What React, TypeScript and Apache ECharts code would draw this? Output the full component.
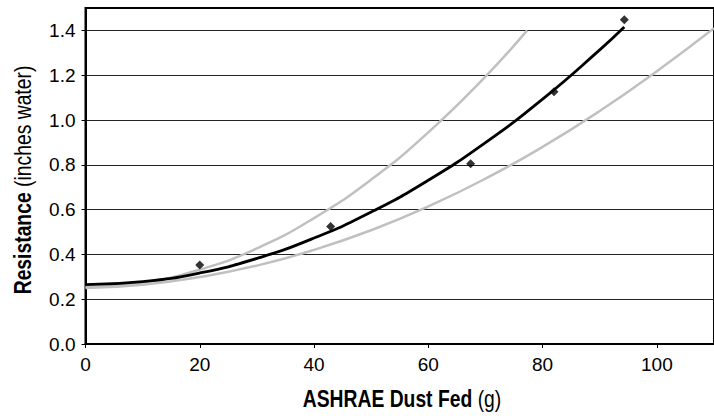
import React, { useEffect, useRef } from "react";
import * as echarts from "echarts";

// Measured data points (ASHRAE dust fed in g, resistance in inches water)
const dustFed = [20, 42.9, 67.4, 82.0, 94.3];
const resistance = [0.353, 0.525, 0.805, 1.126, 1.448];

// Black fitted curve
const fitX = [0, 10, 20, 30, 40, 50, 60, 70, 80, 90, 94.3];
const fitY = [0.265, 0.278, 0.317, 0.382, 0.473, 0.589, 0.731, 0.899, 1.093, 1.313, 1.415];

// Upper gray curve
const upperX = [0, 10, 20, 30, 40, 50, 60, 70, 77.3];
const upperY = [0.255, 0.274, 0.332, 0.427, 0.562, 0.734, 0.945, 1.194, 1.4];

// Lower gray curve
const lowerX = [0, 10, 20, 30, 40, 50, 60, 70, 80, 90, 100, 110];
const lowerY = [0.25, 0.265, 0.299, 0.35, 0.42, 0.508, 0.614, 0.738, 0.88, 1.04, 1.218, 1.41];

const xTicks = [0, 20, 40, 60, 80, 100];
const yTicks = [0, 0.2, 0.4, 0.6, 0.8, 1.0, 1.2, 1.4];

const xTitleBold = "ASHRAE Dust Fed";
const xTitleUnit = "(g)";
const yTitleBold = "Resistance";
const yTitleUnit = "(inches water)";

const FONT = "'Liberation Sans', Arial, sans-serif";

const zip = (xs: number[], ys: number[]) => xs.map((x, i) => [x, ys[i]]);

const titleRich = {
  b: { fontFamily: FONT, fontSize: 23, fontWeight: "bold", fill: "#000" },
  r: { fontFamily: FONT, fontSize: 23, fill: "#000" },
};

export default function App() {
  const ref = useRef<HTMLDivElement>(null);
  useEffect(() => {
    if (!ref.current) return;
    const chart = echarts.init(ref.current, null, { renderer: "svg" });
    chart.setOption({
      animation: false,
      backgroundColor: "#fff",
      grid: {
        left: 85.5,
        right: -7,
        top: 8,
        bottom: 75,
        show: true,
        borderColor: "#000",
        borderWidth: 2,
      },
      graphic: [
        {
          type: "text",
          x: 402,
          y: 399,
          scaleX: 0.84,
          style: {
            text: `{b|${xTitleBold} }{r|${xTitleUnit}}`,
            rich: titleRich,
            align: "center",
            verticalAlign: "middle",
          },
        },
        {
          type: "text",
          x: 23,
          y: 180,
          rotation: Math.PI / 2,
          scaleX: 0.84,
          style: {
            text: `{b|${yTitleBold} }{r|${yTitleUnit}}`,
            rich: titleRich,
            align: "center",
            verticalAlign: "middle",
          },
        },
      ],
      xAxis: {
        type: "value",
        min: 0,
        max: 110,
        interval: 20,
        axisLine: { show: true, lineStyle: { color: "#000", width: 2 } },
        axisTick: { show: true, length: 4, lineStyle: { color: "#000" }, customValues: xTicks },
        axisLabel: {
          fontFamily: FONT,
          fontSize: 19,
          color: "#000",
          margin: 11,
          customValues: xTicks,
        },
        splitLine: { show: false },
      },
      yAxis: {
        type: "value",
        min: 0,
        max: 1.5,
        interval: 0.2,
        axisLine: { show: true, lineStyle: { color: "#000", width: 2 } },
        axisTick: { show: true, length: 4, lineStyle: { color: "#000" }, customValues: yTicks },
        axisLabel: {
          fontFamily: FONT,
          fontSize: 19,
          color: "#000",
          margin: 10,
          customValues: yTicks,
          formatter: (v: number) => v.toFixed(1),
        },
        splitLine: { show: true, lineStyle: { color: "#222", width: 1 } },
      },
      series: [
        {
          type: "line",
          data: zip(upperX, upperY),
          smooth: true,
          showSymbol: false,
          lineStyle: { color: "#c0c0c0", width: 2.5 },
          z: 2,
        },
        {
          type: "line",
          data: zip(lowerX, lowerY),
          smooth: true,
          showSymbol: false,
          lineStyle: { color: "#c0c0c0", width: 2.5 },
          z: 2,
        },
        {
          type: "line",
          data: zip(fitX, fitY),
          smooth: true,
          showSymbol: false,
          lineStyle: { color: "#000", width: 2.8 },
          z: 3,
        },
        {
          type: "scatter",
          data: zip(dustFed, resistance),
          symbol: "diamond",
          symbolSize: 9,
          itemStyle: { color: "#000" },
          z: 4,
        },
      ],
    });
    return () => chart.dispose();
  }, []);
  return (
    <div
      ref={ref}
      style={{ position: "fixed", left: 0, top: 0, width: 714, height: 419 }}
    />
  );
}
